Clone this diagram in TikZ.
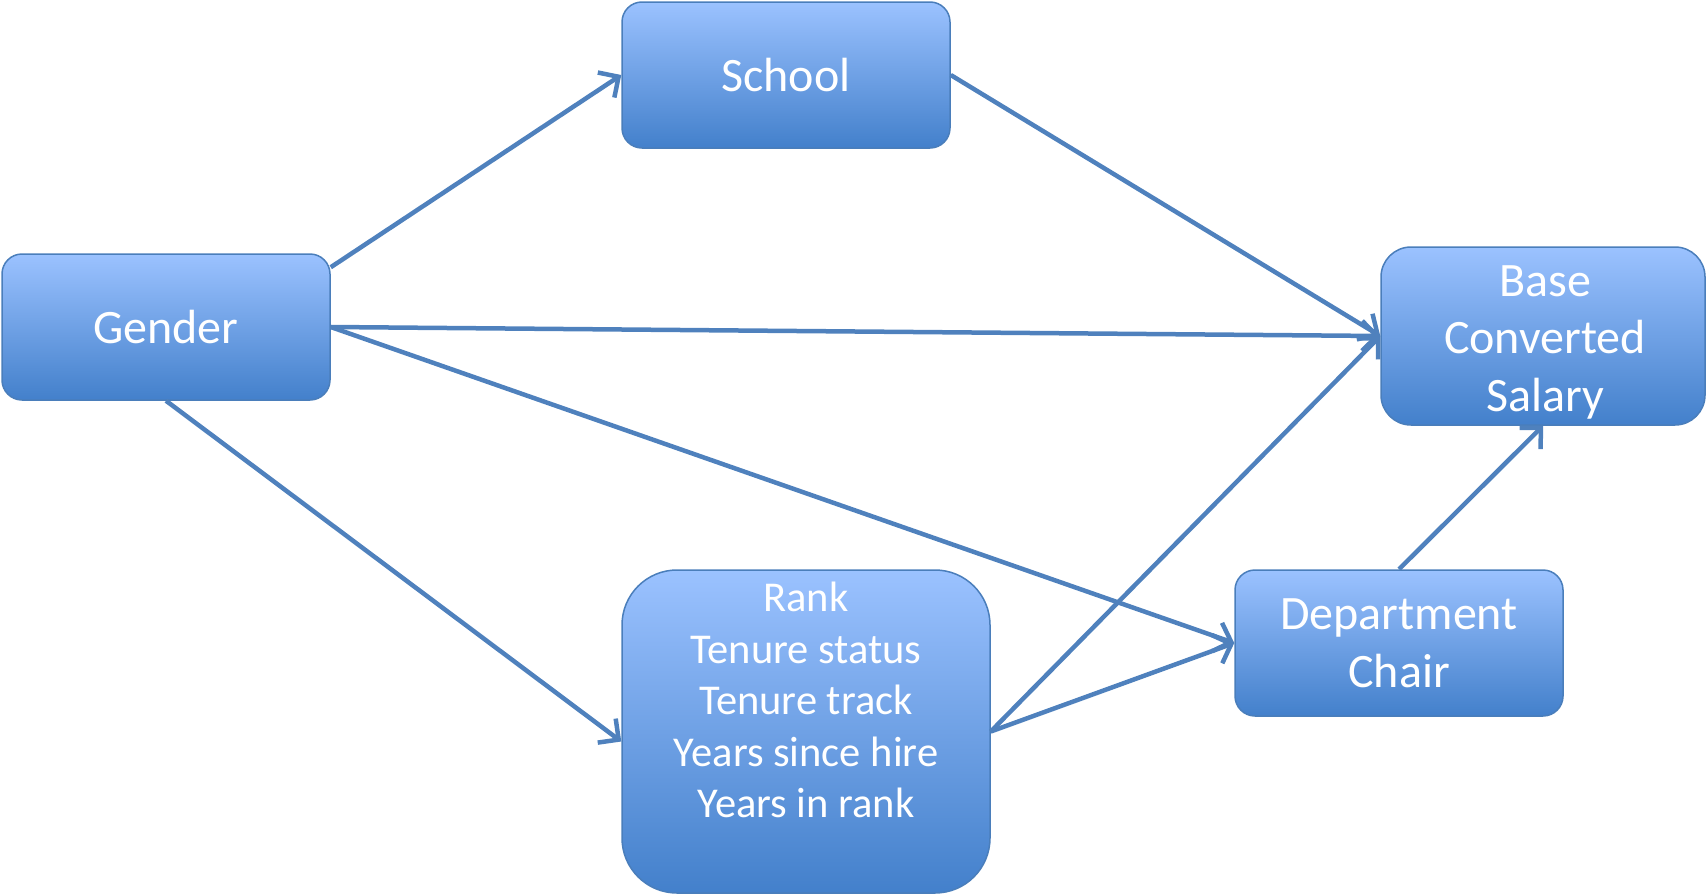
\documentclass[tikz,border=0pt]{standalone}
\usepackage{fontspec}
\setmainfont{Carlito}
\usetikzlibrary{arrows.meta}
\definecolor{edgec}{HTML}{4F81BD}
\definecolor{topc}{HTML}{9BC2FF}
\definecolor{botc}{HTML}{4380CB}
\definecolor{bord}{HTML}{4A7EBB}
\begin{document}
\begin{tikzpicture}[x=1pt,y=-1pt,
  box/.style={draw=bord, line width=1.5pt, rounded corners=20pt,
    top color=topc, bottom color=botc, text=white, align=center,
    inner sep=0pt, font=\fontsize{48}{58}\selectfont},
  txt/.style={text=white, align=center, inner sep=0pt},
  conn/.style={draw=edgec, line width=4.5pt,
    -{Straight Barb[length=15pt,width=30pt]}}]
\useasboundingbox (0,0) rectangle (1707,894);
\node[box, minimum width=328pt, minimum height=146pt] (gender) at (166,327) {Gender};
\node[box, minimum width=328pt, minimum height=146pt] (school) at (786,75) {School};
\node[box, rounded corners=30pt, minimum width=324pt, minimum height=178pt] (base) at (1543,336) {};
\node[txt, font=\fontsize{48}{57.5}\selectfont] (basetext) at (1545,342) {Base\\Converted\\Salary};
\node[box, rounded corners=55pt, minimum width=368pt, minimum height=323pt] (rank) at (806,731.5) {};
\node[txt, font=\fontsize{42.5}{51.4}\selectfont] (ranktext) at (806,700)
  {Rank\\Tenure status\\Tenure track\\Years since hire\\Years in rank};
\node[box, minimum width=328pt, minimum height=146pt] (dept) at (1399,643) {Department\\Chair};
\draw[conn] ([yshift=-14pt]gender.north east) -- (school.west);
\draw[conn] (school.east) -- (base.west);
\draw[conn] (gender.east) -- (base.west);
\draw[conn] (gender.east) -- (dept.west);
\draw[conn] (gender.south) -- ([yshift=-10pt]rank.west);
\draw[conn] (rank.east) -- (base.west);
\draw[conn] (rank.east) -- (dept.west);
\draw[conn] (dept.north) -- (base.south);
\end{tikzpicture}
\end{document}
